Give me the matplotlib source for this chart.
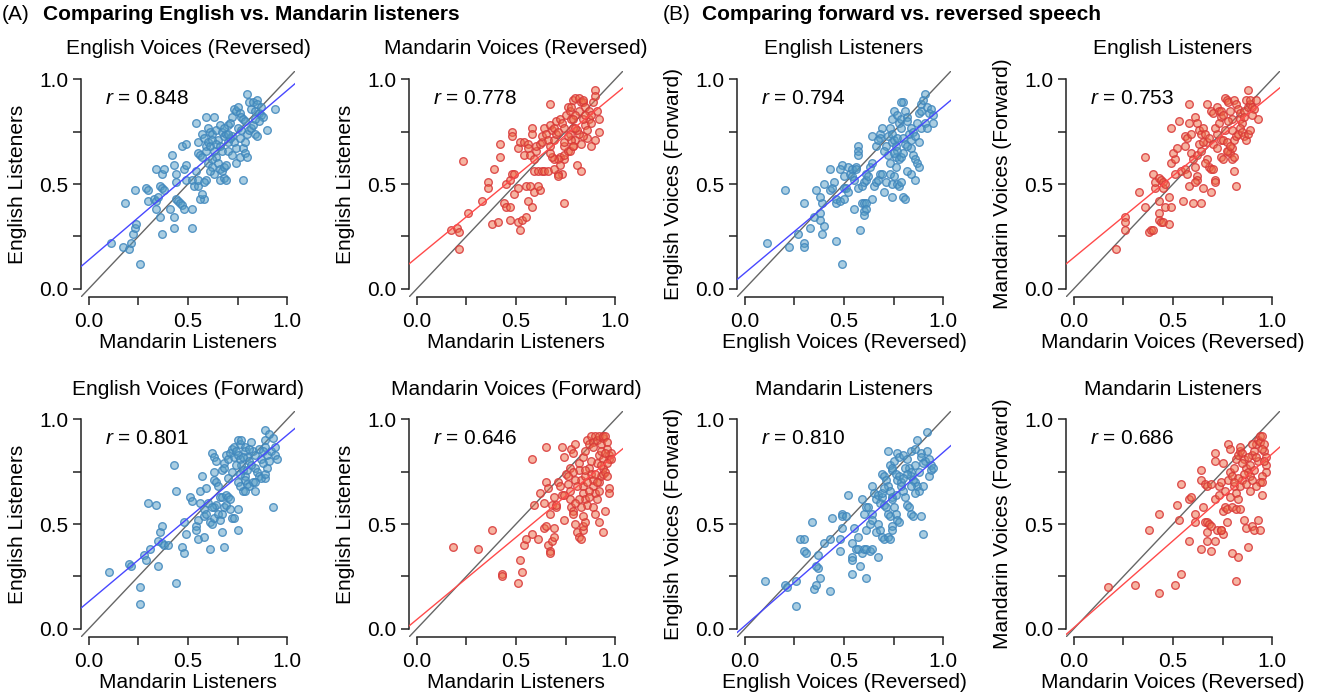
import numpy as np
import matplotlib
matplotlib.use('Agg')
import matplotlib.pyplot as plt

plt.rcParams['font.family'] = ['Liberation Sans', 'DejaVu Sans']
plt.rcParams['mathtext.fontset'] = 'custom'
plt.rcParams['mathtext.it'] = 'Liberation Sans:italic'
plt.rcParams['mathtext.rm'] = 'Liberation Sans'

# ---------------- data ----------------
titles = ["English Voices (Reversed)", "Mandarin Voices (Reversed)", "English Listeners", "English Listeners",
          "English Voices (Forward)", "Mandarin Voices (Forward)", "Mandarin Listeners", "Mandarin Listeners"]
xlabels = ["Mandarin Listeners", "Mandarin Listeners", "English Voices (Reversed)", "Mandarin Voices (Reversed)",
           "Mandarin Listeners", "Mandarin Listeners", "English Voices (Reversed)", "Mandarin Voices (Reversed)"]
ylabels = ["English Listeners", "English Listeners", "English Voices (Forward)", "Mandarin Voices (Forward)",
           "English Listeners", "English Listeners", "English Voices (Forward)", "Mandarin Voices (Forward)"]
r_values = [0.848, 0.778, 0.794, 0.753, 0.801, 0.646, 0.810, 0.686]
fit_intercepts = [0.138, 0.149, 0.075, 0.149, 0.130, 0.044, 0.014, 0.005]
fit_slopes = [0.809, 0.779, 0.794, 0.780, 0.795, 0.785, 0.828, 0.830]
voice_group = ["English", "Mandarin", "English", "Mandarin", "English", "Mandarin", "English", "Mandarin"]
section_labels = ["(A)", "(B)"]
section_titles = ["Comparing English vs. Mandarin listeners", "Comparing forward vs. reversed speech"]

# Panel 1: English voices, reversed (x: Mandarin listeners, y: English listeners)
ev_rev_listeners = [
    (0.11, 0.22), (0.18, 0.41), (0.23, 0.47), (0.17, 0.20), (0.20, 0.19), (0.21, 0.22), (0.22, 0.26), (0.23, 0.29),
    (0.24, 0.31), (0.26, 0.12), (0.29, 0.48), (0.30, 0.47), (0.30, 0.42), (0.33, 0.43), (0.34, 0.42), (0.34, 0.38),
    (0.35, 0.44), (0.36, 0.49), (0.34, 0.57), (0.37, 0.55), (0.36, 0.34), (0.37, 0.26), (0.37, 0.48), (0.38, 0.47),
    (0.38, 0.57), (0.41, 0.38), (0.43, 0.34), (0.43, 0.29), (0.44, 0.43), (0.42, 0.64), (0.43, 0.59), (0.44, 0.55),
    (0.44, 0.51), (0.45, 0.42), (0.46, 0.41), (0.47, 0.40), (0.48, 0.38), (0.47, 0.68), (0.49, 0.69), (0.48, 0.57),
    (0.49, 0.59), (0.49, 0.52), (0.52, 0.38), (0.52, 0.29), (0.52, 0.52), (0.53, 0.49), (0.54, 0.56), (0.55, 0.49),
    (0.55, 0.52), (0.54, 0.79), (0.55, 0.70), (0.55, 0.65), (0.56, 0.64), (0.57, 0.63), (0.57, 0.74), (0.58, 0.72),
    (0.59, 0.68), (0.59, 0.66), (0.59, 0.52), (0.58, 0.51), (0.58, 0.43), (0.56, 0.43), (0.57, 0.45), (0.59, 0.82),
    (0.60, 0.77), (0.61, 0.75), (0.62, 0.74), (0.63, 0.82), (0.64, 0.76), (0.65, 0.71), (0.63, 0.66), (0.64, 0.63),
    (0.65, 0.60), (0.66, 0.57), (0.67, 0.56), (0.66, 0.52), (0.68, 0.53), (0.69, 0.52), (0.68, 0.58), (0.69, 0.59),
    (0.66, 0.78), (0.67, 0.75), (0.68, 0.73), (0.69, 0.74), (0.70, 0.78), (0.71, 0.79), (0.72, 0.73), (0.73, 0.70),
    (0.74, 0.67), (0.72, 0.82), (0.73, 0.86), (0.74, 0.85), (0.75, 0.87), (0.76, 0.84), (0.77, 0.82), (0.78, 0.81),
    (0.79, 0.80), (0.74, 0.60), (0.76, 0.63), (0.78, 0.67), (0.79, 0.65), (0.80, 0.63), (0.79, 0.70), (0.80, 0.74),
    (0.81, 0.76), (0.82, 0.77), (0.83, 0.78), (0.84, 0.74), (0.85, 0.73), (0.78, 0.52), (0.80, 0.93), (0.81, 0.89),
    (0.82, 0.86), (0.83, 0.89), (0.84, 0.85), (0.85, 0.90), (0.86, 0.84), (0.87, 0.83), (0.88, 0.82), (0.90, 0.76),
    (0.94, 0.86), (0.86, 0.80), (0.84, 0.81), (0.85, 0.88), (0.87, 0.87), (0.60, 0.70), (0.61, 0.68), (0.62, 0.71),
    (0.64, 0.69), (0.66, 0.68), (0.67, 0.66), (0.70, 0.70), (0.71, 0.72), (0.70, 0.66), (0.72, 0.64), (0.60, 0.60),
    (0.62, 0.58), (0.62, 0.62), (0.63, 0.55), (0.61, 0.56), (0.68, 0.77), (0.70, 0.74), (0.75, 0.77), (0.77, 0.76),
    (0.76, 0.72)]

# Panel 2: Mandarin voices, reversed (x: Mandarin listeners, y: English listeners)
mv_rev_listeners = [
    (0.17, 0.28), (0.20, 0.29), (0.21, 0.27), (0.21, 0.19), (0.23, 0.61), (0.26, 0.36), (0.33, 0.42), (0.36, 0.51),
    (0.36, 0.48), (0.38, 0.31), (0.41, 0.32), (0.39, 0.57), (0.42, 0.63), (0.42, 0.69), (0.44, 0.41), (0.45, 0.39),
    (0.47, 0.39), (0.47, 0.33), (0.48, 0.75), (0.48, 0.73), (0.45, 0.50), (0.47, 0.52), (0.48, 0.55), (0.49, 0.55),
    (0.49, 0.45), (0.51, 0.67), (0.51, 0.48), (0.51, 0.32), (0.52, 0.28), (0.53, 0.33), (0.55, 0.34), (0.52, 0.70),
    (0.54, 0.70), (0.56, 0.69), (0.56, 0.67), (0.54, 0.64), (0.56, 0.42), (0.58, 0.39), (0.55, 0.49), (0.57, 0.49),
    (0.59, 0.46), (0.62, 0.47), (0.61, 0.49), (0.58, 0.77), (0.58, 0.74), (0.59, 0.56), (0.61, 0.56), (0.63, 0.56),
    (0.64, 0.56), (0.66, 0.56), (0.57, 0.64), (0.59, 0.62), (0.60, 0.66), (0.60, 0.68), (0.62, 0.69), (0.63, 0.70),
    (0.63, 0.73), (0.64, 0.77), (0.65, 0.74), (0.66, 0.71), (0.67, 0.78), (0.68, 0.76), (0.69, 0.77), (0.70, 0.80),
    (0.72, 0.81), (0.73, 0.79), (0.74, 0.77), (0.75, 0.83), (0.76, 0.87), (0.77, 0.85), (0.78, 0.87), (0.79, 0.90),
    (0.80, 0.91), (0.82, 0.91), (0.83, 0.89), (0.84, 0.89), (0.84, 0.90), (0.85, 0.87), (0.87, 0.85), (0.89, 0.89),
    (0.90, 0.95), (0.90, 0.92), (0.91, 0.85), (0.92, 0.81), (0.92, 0.75), (0.90, 0.71), (0.88, 0.68), (0.86, 0.72),
    (0.84, 0.73), (0.82, 0.74), (0.81, 0.76), (0.79, 0.68), (0.80, 0.71), (0.83, 0.69), (0.81, 0.59), (0.83, 0.56),
    (0.74, 0.41), (0.72, 0.63), (0.74, 0.62), (0.74, 0.64), (0.76, 0.66), (0.77, 0.66), (0.71, 0.62), (0.69, 0.62),
    (0.72, 0.59), (0.73, 0.55), (0.71, 0.55), (0.71, 0.54), (0.69, 0.57), (0.68, 0.63), (0.67, 0.65), (0.67, 0.68),
    (0.69, 0.71), (0.70, 0.74), (0.71, 0.75), (0.78, 0.81), (0.79, 0.77), (0.80, 0.77), (0.77, 0.74), (0.78, 0.71),
    (0.79, 0.68), (0.74, 0.68), (0.74, 0.70), (0.76, 0.73), (0.85, 0.78), (0.87, 0.81), (0.88, 0.83), (0.84, 0.81),
    (0.82, 0.85), (0.85, 0.83), (0.80, 0.83), (0.79, 0.81), (0.67, 0.88), (0.86, 0.76), (0.88, 0.79)]

# Panel 3: English listeners (x: English voices reversed, y: English voices forward)
eng_listeners_ev = [
    (0.11, 0.22), (0.20, 0.47), (0.22, 0.20), (0.27, 0.26), (0.30, 0.41), (0.30, 0.22), (0.30, 0.20), (0.33, 0.29),
    (0.35, 0.34), (0.36, 0.47), (0.38, 0.36), (0.38, 0.33), (0.39, 0.26), (0.40, 0.30), (0.39, 0.41), (0.38, 0.44),
    (0.40, 0.50), (0.43, 0.57), (0.43, 0.47), (0.44, 0.48), (0.45, 0.51), (0.46, 0.41), (0.46, 0.23), (0.46, 0.43),
    (0.48, 0.42), (0.49, 0.12), (0.49, 0.59), (0.48, 0.57), (0.50, 0.48), (0.50, 0.43), (0.51, 0.48), (0.50, 0.54),
    (0.52, 0.46), (0.52, 0.58), (0.53, 0.55), (0.54, 0.57), (0.54, 0.54), (0.55, 0.52), (0.56, 0.58), (0.56, 0.57),
    (0.55, 0.38), (0.57, 0.48), (0.57, 0.68), (0.57, 0.66), (0.57, 0.64), (0.58, 0.28), (0.59, 0.41), (0.60, 0.41),
    (0.61, 0.41), (0.60, 0.37), (0.61, 0.38), (0.60, 0.35), (0.59, 0.49), (0.60, 0.51), (0.61, 0.52), (0.61, 0.55),
    (0.62, 0.54), (0.63, 0.58), (0.64, 0.60), (0.64, 0.73), (0.64, 0.43), (0.65, 0.49), (0.66, 0.51), (0.67, 0.52),
    (0.68, 0.55), (0.69, 0.55), (0.70, 0.46), (0.71, 0.51), (0.73, 0.55), (0.73, 0.60), (0.74, 0.44), (0.74, 0.50),
    (0.75, 0.54), (0.76, 0.58), (0.77, 0.50), (0.78, 0.49), (0.79, 0.51), (0.80, 0.44), (0.81, 0.43), (0.71, 0.68),
    (0.72, 0.73), (0.73, 0.77), (0.74, 0.74), (0.74, 0.70), (0.75, 0.71), (0.76, 0.68), (0.76, 0.63), (0.77, 0.66),
    (0.78, 0.62), (0.79, 0.63), (0.80, 0.65), (0.81, 0.69), (0.74, 0.81), (0.75, 0.85), (0.77, 0.83), (0.78, 0.79),
    (0.79, 0.81), (0.79, 0.77), (0.80, 0.89), (0.81, 0.85), (0.82, 0.82), (0.82, 0.80), (0.83, 0.74), (0.84, 0.71),
    (0.84, 0.67), (0.85, 0.64), (0.86, 0.62), (0.87, 0.60), (0.88, 0.58), (0.84, 0.77), (0.85, 0.75), (0.86, 0.73),
    (0.87, 0.79), (0.88, 0.84), (0.89, 0.85), (0.89, 0.88), (0.90, 0.90), (0.91, 0.93), (0.92, 0.87), (0.93, 0.84),
    (0.94, 0.86), (0.95, 0.83), (0.95, 0.79), (0.88, 0.70), (0.89, 0.77), (0.91, 0.79), (0.92, 0.77), (0.86, 0.52),
    (0.84, 0.55), (0.82, 0.56), (0.79, 0.89), (0.68, 0.74), (0.69, 0.77), (0.68, 0.72), (0.66, 0.68), (0.67, 0.71),
    (0.70, 0.66), (0.72, 0.64), (0.75, 0.65), (0.77, 0.72), (0.80, 0.72), (0.82, 0.68)]

# Panel 4: English listeners (x: Mandarin voices reversed, y: Mandarin voices forward)
eng_listeners_mv = [
    (0.21, 0.19), (0.26, 0.34), (0.26, 0.32), (0.26, 0.28), (0.33, 0.46), (0.36, 0.63), (0.36, 0.39), (0.38, 0.27),
    (0.39, 0.28), (0.40, 0.28), (0.40, 0.55), (0.41, 0.48), (0.41, 0.51), (0.43, 0.53), (0.43, 0.42), (0.43, 0.36),
    (0.43, 0.33), (0.44, 0.32), (0.45, 0.32), (0.48, 0.31), (0.44, 0.52), (0.45, 0.51), (0.45, 0.48), (0.46, 0.50),
    (0.46, 0.39), (0.48, 0.44), (0.49, 0.39), (0.49, 0.77), (0.49, 0.60), (0.51, 0.62), (0.50, 0.65), (0.51, 0.55),
    (0.52, 0.67), (0.53, 0.80), (0.54, 0.56), (0.56, 0.57), (0.57, 0.55), (0.58, 0.49), (0.55, 0.42), (0.56, 0.68),
    (0.56, 0.73), (0.57, 0.72), (0.58, 0.79), (0.58, 0.88), (0.59, 0.74), (0.59, 0.65), (0.60, 0.62), (0.61, 0.58),
    (0.62, 0.54), (0.62, 0.52), (0.61, 0.51), (0.60, 0.41), (0.64, 0.41), (0.61, 0.82), (0.62, 0.79), (0.63, 0.76),
    (0.64, 0.74), (0.65, 0.77), (0.66, 0.74), (0.67, 0.70), (0.67, 0.62), (0.68, 0.58), (0.65, 0.48), (0.69, 0.57),
    (0.70, 0.57), (0.71, 0.52), (0.69, 0.46), (0.71, 0.51), (0.67, 0.88), (0.69, 0.85), (0.70, 0.84), (0.72, 0.87),
    (0.73, 0.85), (0.74, 0.82), (0.74, 0.85), (0.75, 0.83), (0.76, 0.91), (0.77, 0.90), (0.78, 0.89), (0.79, 0.85),
    (0.80, 0.81), (0.81, 0.90), (0.82, 0.88), (0.83, 0.86), (0.84, 0.84), (0.84, 0.81), (0.85, 0.79), (0.86, 0.85),
    (0.87, 0.90), (0.88, 0.87), (0.89, 0.88), (0.89, 0.90), (0.90, 0.87), (0.91, 0.86), (0.92, 0.90), (0.93, 0.81),
    (0.72, 0.74), (0.74, 0.71), (0.75, 0.71), (0.77, 0.70), (0.78, 0.66), (0.79, 0.65), (0.80, 0.67), (0.81, 0.71),
    (0.82, 0.73), (0.83, 0.74), (0.84, 0.77), (0.85, 0.75), (0.86, 0.73), (0.87, 0.71), (0.88, 0.74), (0.89, 0.76),
    (0.88, 0.95), (0.74, 0.63), (0.75, 0.62), (0.77, 0.66), (0.79, 0.68), (0.80, 0.62), (0.81, 0.63), (0.81, 0.56),
    (0.82, 0.49), (0.63, 0.69), (0.65, 0.70), (0.68, 0.72), (0.70, 0.69), (0.71, 0.77), (0.73, 0.79), (0.76, 0.76),
    (0.78, 0.80), (0.80, 0.76), (0.86, 0.82), (0.90, 0.83), (0.62, 0.64), (0.64, 0.66), (0.66, 0.60), (0.72, 0.67)]

# Panel 5: English voices, forward (x: Mandarin listeners, y: English listeners)
ev_fwd_listeners = [
    (0.10, 0.27), (0.20, 0.31), (0.21, 0.30), (0.26, 0.20), (0.26, 0.12), (0.28, 0.35), (0.29, 0.33), (0.31, 0.38),
    (0.30, 0.60), (0.34, 0.59), (0.35, 0.30), (0.35, 0.42), (0.36, 0.46), (0.37, 0.49), (0.37, 0.41), (0.38, 0.40),
    (0.40, 0.40), (0.43, 0.78), (0.44, 0.66), (0.44, 0.22), (0.47, 0.39), (0.48, 0.36), (0.48, 0.51), (0.49, 0.45),
    (0.51, 0.63), (0.52, 0.61), (0.54, 0.49), (0.54, 0.47), (0.55, 0.52), (0.55, 0.43), (0.58, 0.44), (0.56, 0.66),
    (0.56, 0.60), (0.58, 0.57), (0.57, 0.73), (0.58, 0.54), (0.59, 0.55), (0.61, 0.51), (0.62, 0.50), (0.63, 0.58),
    (0.63, 0.53), (0.64, 0.59), (0.65, 0.55), (0.66, 0.52), (0.67, 0.55), (0.68, 0.58), (0.69, 0.59), (0.71, 0.57),
    (0.72, 0.53), (0.73, 0.53), (0.75, 0.57), (0.61, 0.38), (0.67, 0.46), (0.68, 0.39), (0.75, 0.47), (0.59, 0.67),
    (0.60, 0.60), (0.62, 0.58), (0.62, 0.84), (0.63, 0.82), (0.64, 0.80), (0.63, 0.75), (0.63, 0.71), (0.64, 0.70),
    (0.65, 0.68), (0.66, 0.63), (0.67, 0.63), (0.69, 0.64), (0.70, 0.63), (0.71, 0.62), (0.67, 0.76), (0.68, 0.79),
    (0.68, 0.77), (0.69, 0.83), (0.70, 0.81), (0.71, 0.84), (0.72, 0.86), (0.73, 0.82), (0.73, 0.87), (0.74, 0.85),
    (0.75, 0.83), (0.76, 0.81), (0.77, 0.78), (0.78, 0.76), (0.79, 0.73), (0.79, 0.71), (0.80, 0.69), (0.81, 0.68),
    (0.75, 0.90), (0.76, 0.88), (0.77, 0.90), (0.79, 0.87), (0.79, 0.85), (0.80, 0.82), (0.81, 0.80), (0.82, 0.89),
    (0.83, 0.85), (0.84, 0.83), (0.84, 0.77), (0.85, 0.75), (0.86, 0.73), (0.87, 0.81), (0.88, 0.79), (0.89, 0.90),
    (0.89, 0.87), (0.90, 0.83), (0.91, 0.80), (0.92, 0.85), (0.93, 0.91), (0.94, 0.87), (0.94, 0.83), (0.95, 0.81),
    (0.89, 0.95), (0.91, 0.93), (0.89, 0.72), (0.84, 0.66), (0.93, 0.58), (0.75, 0.70), (0.76, 0.68), (0.78, 0.66),
    (0.79, 0.66), (0.83, 0.70), (0.84, 0.70), (0.87, 0.72), (0.89, 0.74), (0.90, 0.77), (0.72, 0.75), (0.74, 0.78),
    (0.76, 0.74), (0.78, 0.82), (0.81, 0.86), (0.82, 0.78), (0.86, 0.86), (0.88, 0.85), (0.80, 0.76), (0.70, 0.72)]

# Panel 6: Mandarin voices, forward (x: Mandarin listeners, y: English listeners)
mv_fwd_listeners = [
    (0.18, 0.39), (0.31, 0.38), (0.38, 0.47), (0.43, 0.26), (0.43, 0.25), (0.51, 0.22), (0.52, 0.33), (0.53, 0.27),
    (0.54, 0.40), (0.55, 0.43), (0.58, 0.81), (0.58, 0.45), (0.59, 0.59), (0.61, 0.43), (0.62, 0.65), (0.64, 0.48),
    (0.65, 0.87), (0.64, 0.60), (0.65, 0.70), (0.66, 0.67), (0.65, 0.49), (0.66, 0.40), (0.67, 0.37), (0.67, 0.36),
    (0.68, 0.42), (0.69, 0.44), (0.69, 0.48), (0.67, 0.55), (0.68, 0.59), (0.69, 0.63), (0.70, 0.58), (0.70, 0.59),
    (0.73, 0.87), (0.74, 0.52), (0.71, 0.70), (0.72, 0.68), (0.73, 0.64), (0.74, 0.64), (0.74, 0.82), (0.75, 0.74),
    (0.76, 0.69), (0.77, 0.66), (0.77, 0.62), (0.78, 0.58), (0.79, 0.56), (0.79, 0.55), (0.80, 0.50), (0.81, 0.46),
    (0.82, 0.44), (0.83, 0.43), (0.84, 0.47), (0.84, 0.49), (0.85, 0.51), (0.78, 0.86), (0.79, 0.84), (0.80, 0.88),
    (0.82, 0.79), (0.82, 0.76), (0.83, 0.71), (0.84, 0.68), (0.84, 0.65), (0.85, 0.62), (0.86, 0.59), (0.84, 0.82),
    (0.85, 0.85), (0.86, 0.90), (0.87, 0.88), (0.88, 0.92), (0.89, 0.89), (0.89, 0.87), (0.90, 0.92), (0.91, 0.90),
    (0.92, 0.92), (0.93, 0.88), (0.94, 0.91), (0.94, 0.92), (0.95, 0.92), (0.96, 0.89), (0.96, 0.86), (0.97, 0.83),
    (0.97, 0.81), (0.98, 0.84), (0.98, 0.81), (0.87, 0.77), (0.88, 0.74), (0.89, 0.71), (0.89, 0.68), (0.90, 0.65),
    (0.91, 0.62), (0.92, 0.70), (0.93, 0.73), (0.94, 0.74), (0.94, 0.77), (0.95, 0.75), (0.96, 0.73), (0.97, 0.67),
    (0.97, 0.65), (0.87, 0.66), (0.89, 0.58), (0.90, 0.55), (0.92, 0.51), (0.94, 0.46), (0.95, 0.56), (0.77, 0.77),
    (0.79, 0.75), (0.80, 0.71), (0.81, 0.68), (0.82, 0.62), (0.83, 0.58), (0.84, 0.54), (0.85, 0.73), (0.85, 0.76),
    (0.90, 0.74), (0.91, 0.79), (0.92, 0.83), (0.93, 0.85), (0.94, 0.81), (0.86, 0.70), (0.88, 0.80), (0.91, 0.70),
    (0.93, 0.78), (0.95, 0.84), (0.96, 0.79), (0.76, 0.73), (0.80, 0.60), (0.87, 0.63), (0.92, 0.66)]

# Panel 7: Mandarin listeners (x: English voices reversed, y: English voices forward)
man_listeners_ev = [
    (0.10, 0.23), (0.20, 0.21), (0.21, 0.20), (0.26, 0.11), (0.26, 0.23), (0.28, 0.43), (0.30, 0.43), (0.30, 0.37),
    (0.31, 0.36), (0.34, 0.51), (0.35, 0.19), (0.36, 0.21), (0.38, 0.24), (0.37, 0.29), (0.36, 0.30), (0.37, 0.35),
    (0.40, 0.41), (0.43, 0.43), (0.43, 0.18), (0.44, 0.53), (0.48, 0.37), (0.48, 0.43), (0.49, 0.55), (0.49, 0.54),
    (0.49, 0.48), (0.51, 0.54), (0.52, 0.64), (0.54, 0.34), (0.54, 0.33), (0.54, 0.26), (0.54, 0.41), (0.56, 0.38),
    (0.57, 0.38), (0.55, 0.48), (0.57, 0.44), (0.58, 0.30), (0.59, 0.36), (0.60, 0.38), (0.61, 0.38), (0.63, 0.37),
    (0.64, 0.38), (0.67, 0.34), (0.59, 0.62), (0.60, 0.55), (0.61, 0.58), (0.62, 0.58), (0.64, 0.55), (0.61, 0.24),
    (0.61, 0.47), (0.63, 0.50), (0.64, 0.52), (0.66, 0.46), (0.67, 0.50), (0.68, 0.47), (0.69, 0.44), (0.70, 0.43),
    (0.72, 0.44), (0.73, 0.43), (0.64, 0.68), (0.65, 0.65), (0.66, 0.62), (0.67, 0.64), (0.68, 0.60), (0.69, 0.63),
    (0.69, 0.65), (0.70, 0.59), (0.71, 0.58), (0.72, 0.55), (0.73, 0.54), (0.74, 0.49), (0.74, 0.47), (0.69, 0.74),
    (0.70, 0.73), (0.71, 0.71), (0.72, 0.68), (0.73, 0.66), (0.74, 0.63), (0.74, 0.62), (0.75, 0.58), (0.76, 0.55),
    (0.77, 0.52), (0.78, 0.51), (0.72, 0.85), (0.73, 0.78), (0.74, 0.76), (0.74, 0.77), (0.75, 0.80), (0.76, 0.74),
    (0.77, 0.71), (0.78, 0.73), (0.79, 0.70), (0.79, 0.68), (0.80, 0.66), (0.81, 0.63), (0.82, 0.59), (0.83, 0.58),
    (0.84, 0.55), (0.85, 0.54), (0.89, 0.54), (0.90, 0.45), (0.77, 0.84), (0.78, 0.82), (0.80, 0.83), (0.82, 0.81),
    (0.83, 0.77), (0.84, 0.75), (0.84, 0.73), (0.85, 0.71), (0.86, 0.70), (0.87, 0.68), (0.88, 0.66), (0.84, 0.85),
    (0.86, 0.86), (0.87, 0.90), (0.89, 0.84), (0.89, 0.82), (0.91, 0.80), (0.92, 0.85), (0.93, 0.81), (0.94, 0.78),
    (0.94, 0.76), (0.95, 0.77), (0.93, 0.73), (0.81, 0.77), (0.82, 0.74), (0.84, 0.68), (0.90, 0.68), (0.86, 0.65),
    (0.92, 0.94), (0.76, 0.64), (0.80, 0.72), (0.86, 0.78), (0.88, 0.75), (0.90, 0.79), (0.70, 0.67)]

# Panel 8: Mandarin listeners (x: Mandarin voices reversed, y: Mandarin voices forward)
man_listeners_mv = [
    (0.17, 0.20), (0.31, 0.21), (0.38, 0.47), (0.43, 0.55), (0.43, 0.17), (0.51, 0.21), (0.52, 0.59), (0.53, 0.52),
    (0.54, 0.69), (0.54, 0.26), (0.58, 0.42), (0.58, 0.62), (0.59, 0.63), (0.61, 0.55), (0.61, 0.51), (0.64, 0.71),
    (0.64, 0.76), (0.64, 0.38), (0.65, 0.58), (0.66, 0.51), (0.67, 0.46), (0.67, 0.51), (0.68, 0.50), (0.69, 0.49),
    (0.66, 0.69), (0.67, 0.68), (0.69, 0.69), (0.67, 0.42), (0.69, 0.37), (0.71, 0.42), (0.71, 0.84), (0.71, 0.80),
    (0.72, 0.47), (0.74, 0.47), (0.75, 0.45), (0.74, 0.47), (0.71, 0.62), (0.73, 0.64), (0.73, 0.68), (0.74, 0.70),
    (0.75, 0.79), (0.75, 0.56), (0.76, 0.58), (0.77, 0.57), (0.77, 0.51), (0.78, 0.88), (0.79, 0.86), (0.80, 0.36),
    (0.83, 0.34), (0.82, 0.23), (0.78, 0.71), (0.79, 0.63), (0.80, 0.58), (0.81, 0.68), (0.82, 0.65), (0.83, 0.62),
    (0.84, 0.68), (0.85, 0.71), (0.79, 0.75), (0.80, 0.73), (0.81, 0.77), (0.82, 0.81), (0.83, 0.83), (0.84, 0.85),
    (0.84, 0.87), (0.85, 0.84), (0.86, 0.81), (0.87, 0.77), (0.88, 0.75), (0.89, 0.73), (0.89, 0.78), (0.90, 0.83),
    (0.91, 0.85), (0.92, 0.88), (0.93, 0.90), (0.94, 0.92), (0.94, 0.89), (0.95, 0.92), (0.96, 0.88), (0.96, 0.85),
    (0.97, 0.82), (0.97, 0.78), (0.97, 0.75), (0.95, 0.73), (0.94, 0.70), (0.92, 0.68), (0.90, 0.71), (0.89, 0.66),
    (0.82, 0.57), (0.84, 0.57), (0.86, 0.52), (0.87, 0.48), (0.88, 0.39), (0.90, 0.49), (0.91, 0.47), (0.93, 0.52),
    (0.94, 0.47), (0.95, 0.64), (0.95, 0.70), (0.86, 0.74), (0.88, 0.82), (0.91, 0.76), (0.93, 0.80), (0.95, 0.86),
    (0.92, 0.82), (0.87, 0.69), (0.85, 0.79), (0.83, 0.72), (0.81, 0.70), (0.90, 0.88), (0.96, 0.80), (0.76, 0.66)]

panel_points = [ev_rev_listeners, mv_rev_listeners, eng_listeners_ev, eng_listeners_mv,
                ev_fwd_listeners, mv_fwd_listeners, man_listeners_ev, man_listeners_mv]

# ---------------- styling ----------------
W, H = 1319, 700
fig = plt.figure(figsize=(W / 100, H / 100), dpi=100)

lefts_px = [81, 409, 737, 1066]
tops_px = [71, 411]
aw_px, ah_px = 214, 226

style = {
    "English": dict(face=(0.33, 0.61, 0.77, 0.5), edge=(0.25, 0.53, 0.74, 0.85), line="#4848ff"),
    "Mandarin": dict(face=(0.93, 0.42, 0.27, 0.5), edge=(0.85, 0.22, 0.22, 0.85), line="#ff4a4a"),
}
FS = 15
lo, hi = -0.04, 1.04
ticks = [0, 0.25, 0.5, 0.75, 1.0]
ticklabels = ["0.0", "", "0.5", "", "1.0"]

for i in range(8):
    row, col = divmod(i, 4)
    l = lefts_px[col] / W
    b = 1 - (tops_px[row] + ah_px) / H
    ax = fig.add_axes([l, b, aw_px / W, ah_px / H])
    st = style[voice_group[i]]
    pts = np.array(panel_points[i])
    ax.set_xlim(lo, hi)
    ax.set_ylim(lo, hi)
    xs = np.array([lo, hi])
    ax.plot(xs, xs, color="#666666", lw=1.0, zorder=1)
    ax.plot(xs, fit_intercepts[i] + fit_slopes[i] * xs, color=st["line"], lw=1.0, zorder=3)
    ax.scatter(pts[:, 0], pts[:, 1], s=30, facecolors=[st["face"]], edgecolors=[st["edge"]],
               linewidths=1.0, zorder=2)
    for s in ["top", "right"]:
        ax.spines[s].set_visible(False)
    ax.spines["left"].set_bounds(0, 1)
    ax.spines["bottom"].set_bounds(0, 1)
    for s in ["left", "bottom"]:
        ax.spines[s].set_linewidth(1.1)
        ax.spines[s].set_color("#222222")
    ax.set_xticks(ticks)
    ax.set_xticklabels(ticklabels)
    ax.set_yticks(ticks)
    ax.set_yticklabels(ticklabels)
    ax.tick_params(axis="both", labelsize=FS, length=5.5, width=1.1, color="#222222")
    ax.tick_params(axis="x", pad=5)
    ax.tick_params(axis="y", pad=3.5)
    ax.text(0.5, 1 + (71 - 49) / ah_px, titles[i], transform=ax.transAxes, ha="center", va="center", fontsize=FS)
    ax.text(0.5, -(343 - 297) / ah_px, xlabels[i], transform=ax.transAxes, ha="center", va="center", fontsize=FS)
    ax.text(-0.298, 0.5, ylabels[i], transform=ax.transAxes, ha="center", va="center", rotation=90, fontsize=FS)
    ax.text(0.08, 0.91, r"$r$ = %.3f" % r_values[i], ha="left", va="center", fontsize=FS)
    ax.patch.set_alpha(0)

# section headers
head_px = [(2, 43), (663, 702)]
for k in range(2):
    fig.text(head_px[k][0] / W, 1 - 14 / H, section_labels[k], ha="left", va="center", fontsize=FS)
    fig.text(head_px[k][1] / W, 1 - 14 / H, section_titles[k], ha="left", va="center", fontsize=FS,
             fontweight="bold")

fig.savefig("out.png", dpi=100)
